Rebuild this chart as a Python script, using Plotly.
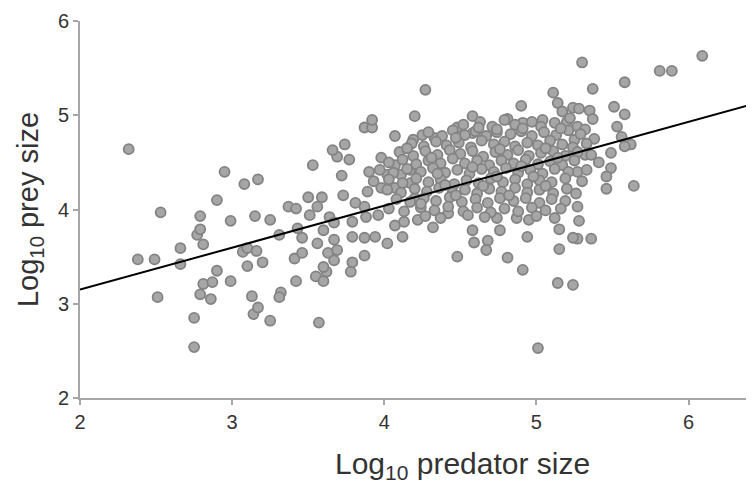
import plotly.graph_objects as go

# Sparse / outlying points (log10 predator size, log10 prey size)
sparse = [
    (2.32, 4.64), (2.38, 3.47), (2.49, 3.47), (2.53, 3.97), (2.51, 3.07), (2.66, 3.59),
    (2.66, 3.42), (2.75, 2.85), (2.75, 2.54), (2.77, 3.73), (2.79, 3.79), (2.79, 3.93),
    (2.81, 3.63), (2.81, 3.21), (2.79, 3.10), (2.86, 3.05), (2.87, 3.23), (2.90, 3.35),
    (2.90, 4.10), (2.95, 4.40), (2.99, 3.88), (2.99, 3.24), (3.08, 4.27), (3.17, 4.32),
    (3.07, 3.55), (3.10, 3.59), (3.10, 3.40), (3.16, 3.56), (3.15, 3.93), (3.13, 3.08),
    (3.14, 2.89), (3.17, 2.96), (3.25, 2.82), (3.32, 3.12), (3.31, 3.07), (3.42, 3.24),
    (3.55, 3.29), (3.60, 3.24), (3.62, 3.34), (3.78, 3.34), (3.57, 2.80), (3.20, 3.44),
    (3.25, 3.89), (3.31, 3.73), (3.43, 3.80), (3.46, 3.70), (3.41, 3.48), (3.46, 3.54),
    (3.50, 4.13), (3.59, 4.13), (3.37, 4.03), (3.42, 4.01), (3.56, 4.03), (3.51, 3.94),
    (3.64, 3.92), (3.67, 3.86), (3.60, 3.78), (3.67, 3.68), (3.56, 3.64), (3.63, 3.54),
    (3.69, 3.57), (3.60, 3.39), (3.67, 3.46), (3.79, 3.44), (3.87, 3.51), (3.79, 3.71),
    (3.87, 3.70), (3.94, 3.71), (3.79, 3.87), (3.88, 3.92), (3.96, 3.94), (3.81, 4.07),
    (3.87, 4.03), (3.73, 4.15), (3.89, 4.19), (3.98, 4.23), (4.07, 4.23), (3.72, 4.36),
    (3.90, 4.40), (3.53, 4.47), (3.69, 4.56), (3.77, 4.53), (3.98, 4.55), (4.07, 4.47),
    (4.02, 4.37), (4.11, 4.37), (4.17, 4.42), (4.17, 4.28), (4.02, 3.64), (4.12, 3.71),
    (4.07, 3.83), (4.13, 3.87), (4.22, 3.89), (4.32, 3.81), (4.42, 3.96), (4.20, 4.12),
    (3.66, 4.63), (3.74, 4.69), (3.87, 4.87), (3.92, 4.87), (3.92, 4.95), (4.07, 4.78),
    (4.19, 4.74), (4.20, 4.99), (4.25, 4.79), (4.27, 5.27), (4.33, 4.76), (4.48, 4.87),
    (4.58, 4.99), (4.58, 4.81), (4.74, 4.82), (4.81, 4.96), (4.90, 5.10), (4.91, 4.92),
    (5.04, 4.95), (5.11, 5.24), (5.14, 5.13), (5.17, 5.04), (5.24, 5.08), (5.20, 4.93),
    (5.30, 5.56), (5.81, 5.47), (5.89, 5.47), (6.09, 5.63), (5.58, 5.35), (5.37, 5.28),
    (5.28, 5.07), (5.35, 5.05), (5.51, 5.09), (5.58, 5.01), (5.37, 4.96), (5.27, 4.88),
    (5.32, 4.85), (5.53, 4.88), (5.38, 4.75), (5.56, 4.77), (5.62, 4.69), (5.58, 4.67),
    (5.25, 4.74), (5.32, 4.58), (5.49, 4.60), (5.27, 4.40), (5.49, 4.44), (5.46, 4.35),
    (5.46, 4.22), (5.64, 4.25), (5.26, 4.17), (5.27, 4.03), (5.28, 3.88), (5.27, 3.69),
    (5.36, 3.69), (4.74, 3.91), (4.87, 3.91), (4.95, 3.89), (4.58, 3.78), (4.76, 3.78),
    (5.15, 3.79), (4.94, 3.71), (4.59, 3.65), (4.68, 3.67), (4.67, 3.57), (4.48, 3.50),
    (4.81, 3.49), (5.15, 3.58), (4.91, 3.36), (5.24, 3.70), (5.14, 3.22), (5.24, 3.20),
    (5.01, 2.53),
]

# Dense central cloud
dense = [
    (4.52, 4.90), (4.63, 4.93), (4.71, 4.88), (4.79, 4.95), (4.86, 4.90), (4.97, 4.93),
    (5.03, 4.88), (5.12, 4.92), (5.22, 4.97),
    (4.29, 4.82), (4.38, 4.78), (4.45, 4.84), (4.53, 4.79), (4.60, 4.83), (4.67, 4.78),
    (4.74, 4.85), (4.83, 4.80), (4.90, 4.83), (4.97, 4.78), (5.05, 4.82), (5.13, 4.79),
    (5.21, 4.84), (5.29, 4.80),
    (4.18, 4.70), (4.26, 4.67), (4.34, 4.72), (4.41, 4.68), (4.49, 4.71), (4.57, 4.66),
    (4.64, 4.73), (4.72, 4.69), (4.79, 4.72), (4.86, 4.67), (4.94, 4.71), (5.01, 4.68),
    (5.09, 4.73), (5.17, 4.69), (5.24, 4.66), (5.33, 4.70),
    (4.10, 4.61), (4.19, 4.57), (4.27, 4.62), (4.35, 4.58), (4.43, 4.63), (4.50, 4.59),
    (4.58, 4.62), (4.65, 4.56), (4.73, 4.61), (4.81, 4.58), (4.88, 4.63), (4.95, 4.57),
    (5.03, 4.60), (5.11, 4.62), (5.19, 4.57), (5.27, 4.61), (5.36, 4.58),
    (4.03, 4.50), (4.12, 4.53), (4.21, 4.48), (4.29, 4.52), (4.37, 4.49), (4.45, 4.54),
    (4.53, 4.49), (4.61, 4.52), (4.69, 4.47), (4.77, 4.52), (4.85, 4.49), (4.93, 4.53),
    (5.01, 4.48), (5.09, 4.51), (5.17, 4.47), (5.25, 4.52), (5.41, 4.50),
    (3.97, 4.42), (4.06, 4.39), (4.15, 4.43), (4.24, 4.40), (4.32, 4.44), (4.40, 4.39),
    (4.48, 4.42), (4.56, 4.38), (4.64, 4.43), (4.72, 4.40), (4.80, 4.44), (4.88, 4.39),
    (4.96, 4.42), (5.04, 4.38), (5.12, 4.43), (5.21, 4.40), (5.33, 4.42),
    (3.93, 4.30), (4.03, 4.32), (4.12, 4.28), (4.21, 4.33), (4.29, 4.29), (4.37, 4.32),
    (4.46, 4.27), (4.54, 4.31), (4.62, 4.28), (4.70, 4.33), (4.78, 4.29), (4.86, 4.32),
    (4.94, 4.27), (5.02, 4.31), (5.10, 4.29), (5.19, 4.33), (5.30, 4.30),
    (4.02, 4.21), (4.11, 4.18), (4.20, 4.22), (4.28, 4.19), (4.36, 4.23), (4.45, 4.18),
    (4.53, 4.21), (4.61, 4.17), (4.69, 4.22), (4.77, 4.19), (4.86, 4.23), (4.94, 4.18),
    (5.02, 4.21), (5.11, 4.17), (5.20, 4.22),
    (4.08, 4.11), (4.17, 4.08), (4.26, 4.12), (4.34, 4.09), (4.43, 4.13), (4.51, 4.08),
    (4.60, 4.11), (4.68, 4.07), (4.76, 4.12), (4.85, 4.09), (4.93, 4.12), (5.02, 4.07),
    (5.10, 4.11), (5.19, 4.09),
    (4.03, 4.01), (4.13, 3.98), (4.24, 4.02), (4.33, 3.99), (4.42, 4.03), (4.52, 3.98),
    (4.61, 4.02), (4.70, 3.97), (4.79, 4.01), (4.88, 3.98), (4.97, 4.02), (5.06, 3.99),
    (5.16, 4.01),
    (4.27, 3.93), (4.37, 3.91), (4.55, 3.94), (4.66, 3.92), (5.00, 3.93), (5.12, 3.91),
    (4.15, 4.65), (4.31, 4.55), (4.47, 4.76), (4.62, 4.87), (4.76, 4.64), (4.91, 4.86),
    (5.06, 4.65), (5.16, 4.86), (4.40, 4.26), (4.58, 4.45), (4.74, 4.35), (4.90, 4.46),
    (5.06, 4.25), (4.24, 4.06), (4.47, 4.15), (4.65, 4.25), (4.82, 4.15), (4.98, 4.35),
    (5.14, 4.55), (4.35, 4.38),
]

predator = [p[0] for p in sparse] + [p[0] for p in dense]
prey = [p[1] for p in sparse] + [p[1] for p in dense]

# Fitted regression line
fit_intercept = 2.26
fit_slope = 0.445
x_range = [2, 6.43]
fit_y = [fit_intercept + fit_slope * v for v in x_range]

x_ticks = [2, 3, 4, 5, 6]
y_ticks = [2, 3, 4, 5, 6]

fig = go.Figure()
fig.add_trace(go.Scatter(
    x=predator, y=prey, mode="markers",
    marker=dict(size=10, color="#a6a6a6", line=dict(color="#838383", width=1.8)),
    hoverinfo="skip", showlegend=False,
))
fig.add_trace(go.Scatter(
    x=x_range, y=fit_y, mode="lines",
    line=dict(color="black", width=2), showlegend=False, hoverinfo="skip",
))

font_family = "Liberation Sans, Arial, sans-serif"
# The page body adds an 8px offset, so the figure is 8px smaller and margins are shifted
fig.update_layout(
    width=746, height=478,
    margin=dict(l=72, r=0, t=13, b=88),
    paper_bgcolor="white", plot_bgcolor="white",
    font=dict(family=font_family, color="#333333"),
)
fig.update_xaxes(
    range=x_range, tickvals=x_ticks, showgrid=False, zeroline=False,
    showline=True, linecolor="#a6a6a6", linewidth=2,
    ticks="outside", ticklen=5, tickwidth=2, tickcolor="#a6a6a6",
    tickfont=dict(size=20), automargin=False,
)
fig.update_yaxes(
    range=[2, 6], tickvals=y_ticks, showgrid=False, zeroline=False,
    showline=True, linecolor="#a6a6a6", linewidth=2,
    ticks="outside", ticklen=5, tickwidth=2, tickcolor="#a6a6a6",
    tickfont=dict(size=20), automargin=False,
    title=dict(text="Log<sub>10</sub> prey size", font=dict(size=29), standoff=11),
)
# x-axis title: the original chart was wider than the visible crop, so its title sits right of centre
fig.add_annotation(
    text="Log<sub>10</sub> predator size", xref="paper", yref="paper",
    x=0.568, y=-0.18, xanchor="center", yanchor="middle",
    showarrow=False, font=dict(size=30, family=font_family, color="#333333"),
)

fig.write_html("out.html")
